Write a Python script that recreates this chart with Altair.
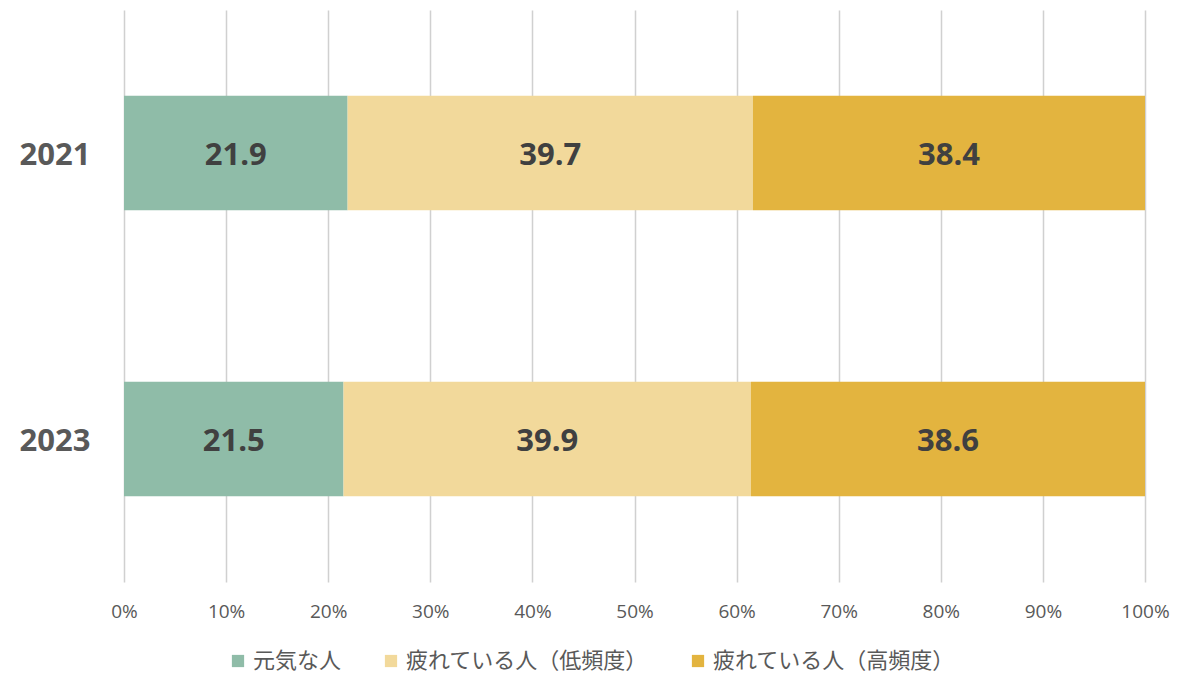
import altair as alt
import pandas as pd

years = ["2021", "2023"]
categories = ["元気な人", "疲れている人（低頻度）", "疲れている人（高頻度）"]
colors = ["#8FBCA8", "#F2D99B", "#E3B43F"]
values_2021 = [21.9, 39.7, 38.4]
values_2023 = [21.5, 39.9, 38.6]
x_ticks = [0, 10, 20, 30, 40, 50, 60, 70, 80, 90, 100]

rows = []
for y, vals in zip(years, [values_2021, values_2023]):
    for i, (c, v) in enumerate(zip(categories, vals)):
        rows.append({"year": y, "category": c, "value": v, "order": i})
df = pd.DataFrame(rows)

FONT_NUM = "Open Sans"
FONT_JP = "Noto Sans CJK JP"

base = alt.Chart(df).transform_stack(
    stack="value", groupby=["year"], as_=["x0", "x1"], sort=[alt.SortField("order")]
).transform_calculate(mid="(datum.x0 + datum.x1) / 2")

yenc = alt.Y(
    "year:N",
    sort=years,
    scale=alt.Scale(paddingInner=0.6, paddingOuter=0.3),
    axis=alt.Axis(
        title=None, ticks=False, domain=False, grid=False,
        labelFont=FONT_NUM, labelFontSize=31, labelFontWeight="bold",
        labelColor="#595959", labelPadding=34, labelOffset=3,
    ),
)

bars = base.mark_bar().encode(
    x=alt.X(
        "x0:Q",
        scale=alt.Scale(domain=[0, 100], nice=False),
        axis=alt.Axis(
            title=None, values=x_ticks, labelExpr="datum.value + '%'",
            grid=True, gridColor="#D0D0D0", gridWidth=1.5,
            domain=False, ticks=False, labelPadding=20, labelFlush=False,
            labelFont=FONT_NUM, labelFontSize=19, labelColor="#595959",
        ),
    ),
    x2="x1:Q",
    y=yenc,
    color=alt.Color(
        "category:N",
        scale=alt.Scale(domain=categories, range=colors),
        legend=alt.Legend(
            title=None, orient="none", direction="horizontal",
            legendX=103, legendY=640,
            symbolType="square", symbolSize=150, symbolStrokeWidth=0,
            labelFont=FONT_JP, labelFontSize=22, labelColor="#595959",
            columnPadding=38, labelOffset=4, labelLimit=400,
        ),
    ),
)

labels = base.mark_text(
    font=FONT_NUM, fontSize=31, fontWeight="bold", color="#404040", dy=3
).encode(
    x="mid:Q",
    y=alt.Y("year:N", sort=years),
    text=alt.Text("value:Q", format=".1f"),
)

chart = alt.layer(bars, labels).properties(
    width=1021,
    height=572,
    background="white",
    autosize=alt.AutoSizeParams(type="none"),
    padding={"left": 124, "top": 10, "right": 55, "bottom": 109},
).configure_view(stroke=None)

chart.save("out.html", embed_options={"renderer": "svg", "actions": False})
